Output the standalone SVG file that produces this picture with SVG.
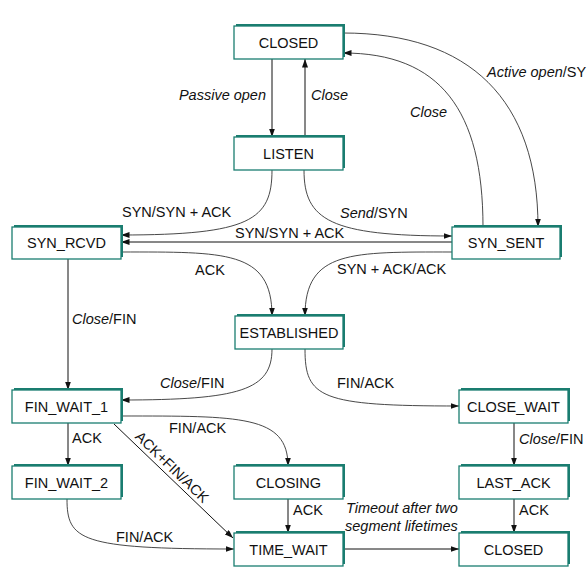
<svg xmlns="http://www.w3.org/2000/svg" width="587" height="587" viewBox="0 0 587 587">
<style>
.sh{fill:#1a7d70}
.bx{fill:#fff;stroke:#1a7d70;stroke-width:1.3}
.nt{font-family:"Liberation Sans",Arial,sans-serif;font-size:14.5px;fill:#111;text-anchor:middle}
.lb{font-family:"Liberation Sans",Arial,sans-serif;font-size:14.5px;fill:#111}
.it{font-style:italic}
.ln{fill:none;stroke:#111;stroke-width:1;marker-end:url(#ah)}
.cv{fill:none;stroke:#333;stroke-width:0.9;marker-end:url(#ah)}
</style>
<defs>
<marker id="ah" markerUnits="userSpaceOnUse" markerWidth="9" markerHeight="6" refX="8.5" refY="3" orient="auto">
<path d="M0,0 L8.5,3 L0,6 z" fill="#111"/>
</marker>
</defs>
<rect width="587" height="587" fill="#fff"/>
<g id="connectors">
<path class="ln" d="M272,59 V137"/>
<path class="ln" d="M305,137 V59"/>
<path class="cv" d="M483,227 C483,110 440,53 343,53"/>
<path class="cv" d="M343,33 C470,33 538,100 538,227"/>
<path class="cv" d="M272,170 C272,220 250,235 121,235"/>
<path class="cv" d="M304,170 C304,220 330,236 452,236"/>
<path class="ln" d="M452,242 H121"/>
<path class="cv" d="M121,252 C225,252 272,250 272,316"/>
<path class="cv" d="M452,252 C352,252 305,250 305,316"/>
<path class="ln" d="M68,259 V390"/>
<path class="cv" d="M272,349 C272,390 240,400 121,400"/>
<path class="cv" d="M305,349 C305,398 320,406 459,406"/>
<path class="cv" d="M121,416 C240,416 288,415 288,466"/>
<path class="ln" d="M68,423 V466"/>
<path class="ln" d="M114,424 L233,538"/>
<path class="cv" d="M67,499 C67,540 80,549 234,549"/>
<path class="ln" d="M288,499 V533"/>
<path class="ln" d="M343,549 H459"/>
<path class="ln" d="M514,423 V466"/>
<path class="ln" d="M514,499 V533"/>
</g>
<g id="labels">
<text class="lb it" x="266" y="100" text-anchor="end">Passive open</text>
<text class="lb it" x="311" y="100">Close</text>
<text class="lb it" x="410" y="117">Close</text>
<text class="lb" x="487" y="77"><tspan class="it">Active open</tspan>/SY</text>
<text class="lb" x="122" y="217">SYN/SYN + ACK</text>
<text class="lb" x="340" y="218"><tspan class="it">Send</tspan>/SYN</text>
<text class="lb" x="235" y="238">SYN/SYN + ACK</text>
<text class="lb" x="195" y="275">ACK</text>
<text class="lb" x="337" y="274">SYN + ACK/ACK</text>
<text class="lb" x="72" y="324"><tspan class="it">Close</tspan>/FIN</text>
<text class="lb" x="160" y="388"><tspan class="it">Close</tspan>/FIN</text>
<text class="lb" x="337" y="388">FIN/ACK</text>
<text class="lb" x="169" y="433">FIN/ACK</text>
<text class="lb" x="72" y="443">ACK</text>
<text class="lb" transform="translate(172,467) rotate(44)" x="0" y="5" text-anchor="middle">ACK+FIN/ACK</text>
<text class="lb" x="116" y="542">FIN/ACK</text>
<text class="lb" x="293" y="515">ACK</text>
<text class="lb it" x="346" y="513">Timeout after two</text>
<text class="lb it" x="345" y="531">segment lifetimes</text>
<text class="lb" x="519" y="444"><tspan class="it">Close</tspan>/FIN</text>
<text class="lb" x="519" y="515">ACK</text>
</g>
<g id="closed"><rect class="sh" x="236" y="24" width="109" height="33"/><rect class="bx" x="234" y="26" width="109" height="33"/><text class="nt" x="288.5" y="48">CLOSED</text></g>
<g id="listen"><rect class="sh" x="236" y="135" width="109" height="33"/><rect class="bx" x="234" y="137" width="109" height="33"/><text class="nt" x="288.5" y="159">LISTEN</text></g>
<g id="syn_rcvd"><rect class="sh" x="14" y="225" width="109" height="32"/><rect class="bx" x="12" y="227" width="109" height="32"/><text class="nt" x="66.5" y="248">SYN_RCVD</text></g>
<g id="syn_sent"><rect class="sh" x="454" y="225" width="108" height="32"/><rect class="bx" x="452" y="227" width="108" height="32"/><text class="nt" x="506" y="248">SYN_SENT</text></g>
<g id="established"><rect class="sh" x="237" y="314" width="108" height="33"/><rect class="bx" x="235" y="316" width="108" height="33"/><text class="nt" x="289" y="338">ESTABLISHED</text></g>
<g id="fin_wait_1"><rect class="sh" x="14" y="388" width="109" height="33"/><rect class="bx" x="12" y="390" width="109" height="33"/><text class="nt" x="66.5" y="412">FIN_WAIT_1</text></g>
<g id="close_wait"><rect class="sh" x="461" y="388" width="109" height="33"/><rect class="bx" x="459" y="390" width="109" height="33"/><text class="nt" x="513.5" y="412">CLOSE_WAIT</text></g>
<g id="fin_wait_2"><rect class="sh" x="14" y="464" width="109" height="33"/><rect class="bx" x="12" y="466" width="109" height="33"/><text class="nt" x="66.5" y="488">FIN_WAIT_2</text></g>
<g id="closing"><rect class="sh" x="236" y="464" width="109" height="33"/><rect class="bx" x="234" y="466" width="109" height="33"/><text class="nt" x="288.5" y="488">CLOSING</text></g>
<g id="last_ack"><rect class="sh" x="461" y="464" width="109" height="33"/><rect class="bx" x="459" y="466" width="109" height="33"/><text class="nt" x="513.5" y="488">LAST_ACK</text></g>
<g id="time_wait"><rect class="sh" x="236" y="531" width="109" height="33"/><rect class="bx" x="234" y="533" width="109" height="33"/><text class="nt" x="288.5" y="555">TIME_WAIT</text></g>
<g id="closed2"><rect class="sh" x="461" y="531" width="109" height="33"/><rect class="bx" x="459" y="533" width="109" height="33"/><text class="nt" x="513.5" y="555">CLOSED</text></g>
</svg>
